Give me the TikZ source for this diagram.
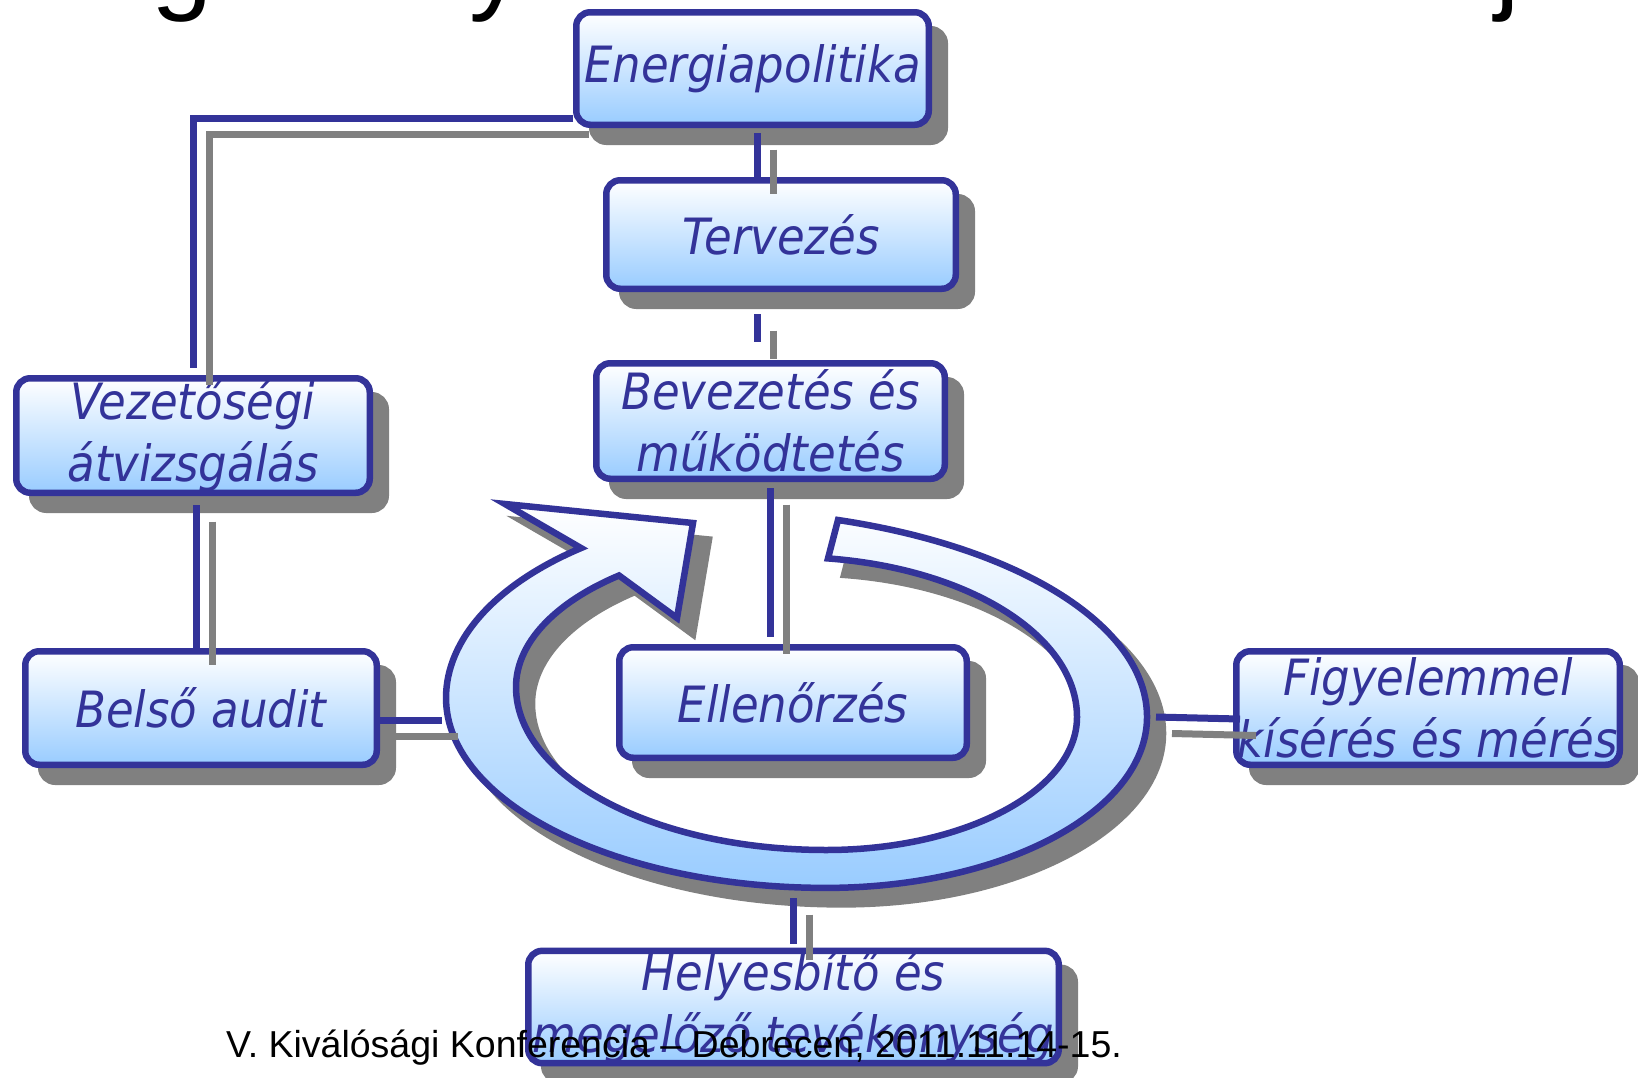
\documentclass[tikz,border=0pt]{standalone}
\usepackage{fontspec}
\newfontfamily\boxfont[FakeStretch=0.9]{DejaVu Sans}
\newfontfamily\arialfont{Liberation Sans}
\usetikzlibrary{calc}
\definecolor{dblue}{RGB}{51,51,153}
\definecolor{lblue}{RGB}{153,204,255}
\definecolor{sgray}{RGB}{128,128,128}
\tikzset{
  boxshape/.style={rectangle, rounded corners=14pt, draw=dblue, line width=6.5pt,
    top color=white, bottom color=lblue, text=dblue,
    font=\boxfont\itshape\fontsize{50}{62}\selectfont, align=center, inner sep=0pt,
    preaction={fill=sgray, draw=sgray, line width=6.5pt, transform canvas={shift={(16pt,-17pt)}}}},
  conn/.style={draw=dblue, line width=7pt, line join=miter},
  cshadow/.style={draw=sgray, line width=7pt, line join=miter, transform canvas={shift={(16pt,-16.5pt)}}},
  titlefrag/.style={font=\arialfont\fontsize{110}{120}\selectfont, anchor=base west, inner sep=0pt, text=black},
  footer/.style={font=\arialfont\fontsize{37.5}{44}\selectfont, anchor=base west, inner sep=0pt, text=black}
}
\newcommand\ringpath[1]{%
  \path[#1] (838,520)
    arc[start angle=-72.02, end angle=0, x radius=447, y radius=207]
    arc[start angle=0, end angle=90, x radius=321, y radius=171]
    arc[start angle=90, end angle=180, x radius=380, y radius=190]
    arc[start angle=180, end angle=232.06, x radius=350.5, y radius=190]
    -- (505,504) -- (693,523) -- (677,618) -- (619,575.5)
    arc[start angle=230.74, end angle=180, x radius=280.5, y radius=144]
    arc[start angle=180, end angle=90, x radius=310, y radius=163]
    arc[start angle=90, end angle=0, x radius=251, y radius=133]
    arc[start angle=0, end angle=-82.39, x radius=287, y radius=160]
    -- cycle;}
\newcommand\linkpath[1]{\draw[cshadow] #1; \draw[conn] #1;}
\begin{document}
\begin{tikzpicture}[x=1pt, y=-1pt]
\useasboundingbox (0,0) rectangle (1638,1077);
\clip (0,0) rectangle (1638,1077);
\fill[white] (0,0) rectangle (1638,1077);

% cut-off title fragments
\node[titlefrag] (tg) at (151,-1) {g};
\node[titlefrag] (ty) at (469,-1) {y};
\node[titlefrag] (tj) at (1495,-1) {j};

% ring arrow
\ringpath{fill=sgray, draw=sgray, line width=6.5pt, line join=miter, transform canvas={shift={(16pt,-16.5pt)}}}
\ringpath{draw=dblue, line width=6.5pt, line join=miter, top color=white, bottom color=lblue}

\coordinate (ringW) at (442,720);
\coordinate (ringE) at (1156,717);
\coordinate (ringS) at (793,898);

% boxes
\node[boxshape, minimum width=352.5pt, minimum height=112.5pt] (E) at (752.5,68.5) {Energiapolitika};
\node[boxshape, minimum width=349.5pt, minimum height=108.5pt] (T) at (781,234.5) {Tervezés};
\node[boxshape, minimum width=348.5pt, minimum height=115.5pt] (B) at (770.5,421) {Bevezetés és\\működtetés};
\node[boxshape, minimum width=353.5pt, minimum height=114.5pt] (V) at (193,435.5) {Vezetőségi\\átvizsgálás};
\node[boxshape, minimum width=351.5pt, minimum height=113.5pt] (A) at (201,708) {Belső audit};
\node[boxshape, minimum width=347.5pt, minimum height=110.5pt] (C) at (793,702.5) {Ellenőrzés};
\node[boxshape, minimum width=383.5pt, minimum height=113.5pt] (F) at (1428,708) {Figyelemmel\\kísérés és mérés};
\node[boxshape, minimum width=530.5pt, minimum height=111.5pt] (H) at (793.5,1007) {Helyesbítő és\\megelőző tevékenység};

% connectors
\coordinate (e1) at ($(E.south)+(4.5,5)$);
\coordinate (t1) at ($(T.south)+(-24,22)$);
\coordinate (v1) at ($(V.south)+(3,9)$);
\coordinate (b1) at ($(B.south)+(0,6)$);
\coordinate (e2) at ($(E.west)+(0,49.5)$);
\linkpath{(e1) -- (e1 |- T.north)}
\linkpath{(t1) -- ($(t1 |- B.north)+(0,-18)$)}
\linkpath{(e2) -| ($(V.north)+(0,-7)$)}
\linkpath{(v1) -- (v1 |- A.north)}
\linkpath{(b1) -- ($(b1 |- C.north)+(0,-7)$)}
\linkpath{($(A.east)+(0,12)$) -- (ringW)}
\linkpath{(ringE) -- ($(F.west)+(7,11)$)}
\linkpath{(ringS) -- ($(H.north)+(-0.5,-4)$)}

% footer
\node[footer] (foot) at (226,1057) {V. Kiválósági Konferencia – Debrecen, 2011.11.14-15.};
\end{tikzpicture}
\end{document}
